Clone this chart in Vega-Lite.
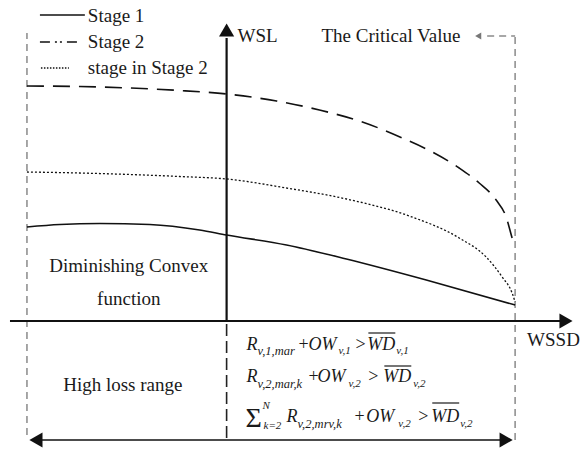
{
  "$schema": "https://vega.github.io/schema/vega-lite/v6.json",
  "width": 580,
  "height": 450,
  "autosize": {"type": "fit", "contains": "padding"},
  "padding": 0,
  "background": "white",
  "config": {"view": {"stroke": null}, "text": {"font": "Liberation Serif", "color": "#1a1a1a"}},
  "datasets": {
    "grayDashed": [
      {"x": 27, "y": 15, "x2": 27, "y2": 417},
      {"x": 516, "y": 10, "x2": 516, "y2": 414},
      {"x": 488, "y": 414, "x2": 516, "y2": 414}
    ],
    "axes": [
      {"x": 10, "y": 129, "x2": 562, "y2": 129},
      {"x": 227, "y": 129, "x2": 227, "y2": 412}
    ],
    "bottomArrow": [
      {"x": 33, "y": 10, "x2": 508, "y2": 10}
    ],
    "yDashed": [
      {"x": 227, "y": 12, "x2": 227, "y2": 127}
    ],
    "arrows": [
      {"x": 567, "y": 129, "dir": "right"},
      {"x": 227, "y": 420, "dir": "up"},
      {"x": 36, "y": 10, "dir": "left"},
      {"x": 507, "y": 10, "dir": "right"}
    ],
    "critArrow": [
      {"x": 479, "y": 414}
    ],
    "curves": [
      {"series": "s1", "x": 27, "y": 223},
      {"series": "s1", "x": 60, "y": 225.5},
      {"series": "s1", "x": 100, "y": 226.5},
      {"series": "s1", "x": 150, "y": 225.5},
      {"series": "s1", "x": 200, "y": 220},
      {"series": "s1", "x": 227, "y": 215},
      {"series": "s1", "x": 287, "y": 205},
      {"series": "s1", "x": 347, "y": 191},
      {"series": "s1", "x": 427, "y": 170},
      {"series": "s1", "x": 516, "y": 145},
      {"series": "s2", "x": 27, "y": 364},
      {"series": "s2", "x": 80, "y": 363.5},
      {"series": "s2", "x": 130, "y": 362},
      {"series": "s2", "x": 180, "y": 359.5},
      {"series": "s2", "x": 227, "y": 356},
      {"series": "s2", "x": 277, "y": 349},
      {"series": "s2", "x": 320, "y": 340},
      {"series": "s2", "x": 363, "y": 328},
      {"series": "s2", "x": 403, "y": 312},
      {"series": "s2", "x": 433, "y": 298},
      {"series": "s2", "x": 460, "y": 282},
      {"series": "s2", "x": 480, "y": 267},
      {"series": "s2", "x": 497, "y": 250},
      {"series": "s2", "x": 507, "y": 233},
      {"series": "s2", "x": 513, "y": 212},
      {"series": "s2", "x": 515, "y": 205},
      {"series": "s3", "x": 27, "y": 278},
      {"series": "s3", "x": 80, "y": 277},
      {"series": "s3", "x": 130, "y": 275.5},
      {"series": "s3", "x": 180, "y": 273.5},
      {"series": "s3", "x": 227, "y": 271},
      {"series": "s3", "x": 287, "y": 262},
      {"series": "s3", "x": 347, "y": 251},
      {"series": "s3", "x": 410, "y": 234},
      {"series": "s3", "x": 460, "y": 212},
      {"series": "s3", "x": 487, "y": 193},
      {"series": "s3", "x": 503, "y": 173},
      {"series": "s3", "x": 513, "y": 157},
      {"series": "s3", "x": 516, "y": 148}
    ],
    "legSolid": [{"x": 40, "y": 435, "x2": 85, "y2": 435}],
    "legDashDot": [{"x": 40, "y": 408, "x2": 80, "y2": 408}],
    "legDotted": [{"x": 41, "y": 382, "x2": 69, "y2": 382}],
    "labelsLeft": [
      {"x": 88, "y": 434, "label": "Stage 1"},
      {"x": 88, "y": 408, "label": "Stage 2"},
      {"x": 88, "y": 382, "label": "stage in Stage 2"},
      {"x": 238, "y": 414, "label": "WSL"},
      {"x": 322, "y": 414, "label": "The Critical Value"},
      {"x": 528, "y": 110, "label": "WSSD"}
    ],
    "labelsCenter": [
      {"x": 129, "y": 184, "label": "Diminishing Convex"},
      {"x": 129, "y": 151, "label": "function"},
      {"x": 123, "y": 65, "label": "High loss range"}
    ],
    "fMainItalic": [
      {"x": 247, "y": 100, "label": "R"},
      {"x": 309, "y": 100, "label": "OW"},
      {"x": 368, "y": 100, "label": "WD"},
      {"x": 247, "y": 68, "label": "R"},
      {"x": 318, "y": 68, "label": "OW"},
      {"x": 384, "y": 68, "label": "WD"},
      {"x": 287, "y": 28, "label": "R"},
      {"x": 367, "y": 28, "label": "OW"},
      {"x": 432, "y": 28, "label": "WD"}
    ],
    "fMainNormal": [
      {"x": 299, "y": 100, "label": "+"},
      {"x": 356, "y": 100, "label": ">"},
      {"x": 309, "y": 68, "label": "+"},
      {"x": 369, "y": 68, "label": ">"},
      {"x": 355, "y": 28, "label": "+"},
      {"x": 419, "y": 28, "label": ">"}
    ],
    "fSub": [
      {"x": 258, "y": 95, "label": "v,1,mar"},
      {"x": 258, "y": 62, "label": "v,2,mar,k"},
      {"x": 298, "y": 22, "label": "v,2,mrv,k"}
    ],
    "fSubSmall": [
      {"x": 339, "y": 96, "label": "v,1"},
      {"x": 397, "y": 96, "label": "v,1"},
      {"x": 349, "y": 63, "label": "v,2"},
      {"x": 414, "y": 63, "label": "v,2"},
      {"x": 399, "y": 23, "label": "v,2"},
      {"x": 461, "y": 23, "label": "v,2"},
      {"x": 263, "y": 41, "label": "N"},
      {"x": 264, "y": 21, "label": "k=2"}
    ],
    "fSigma": [
      {"x": 246, "y": 23, "label": "Σ"}
    ],
    "overlines": [
      {"x": 369, "y": 117, "x2": 396, "y2": 117},
      {"x": 385, "y": 84, "x2": 412, "y2": 84},
      {"x": 433, "y": 47, "x2": 460, "y2": 47}
    ]
  },
  "encoding": {
    "x": {"field": "x", "type": "quantitative", "scale": {"domain": [0, 580], "nice": false, "zero": false}, "axis": null},
    "y": {"field": "y", "type": "quantitative", "scale": {"domain": [0, 450], "nice": false, "zero": false}, "axis": null}
  },
  "layer": [
    {
      "data": {"name": "grayDashed"},
      "mark": {"type": "rule", "color": "#8a8a8a", "strokeWidth": 1.5, "strokeDash": [7, 5]},
      "encoding": {"x2": {"field": "x2"}, "y2": {"field": "y2"}}
    },
    {
      "data": {"name": "yDashed"},
      "mark": {"type": "rule", "color": "#222", "strokeWidth": 1.6, "strokeDash": [12, 5]},
      "encoding": {"x2": {"field": "x2"}, "y2": {"field": "y2"}}
    },
    {
      "data": {"name": "axes"},
      "mark": {"type": "rule", "color": "#111", "strokeWidth": 2.2},
      "encoding": {"x2": {"field": "x2"}, "y2": {"field": "y2"}}
    },
    {
      "data": {"name": "bottomArrow"},
      "mark": {"type": "rule", "color": "#111", "strokeWidth": 1.6},
      "encoding": {"x2": {"field": "x2"}, "y2": {"field": "y2"}}
    },
    {
      "data": {"name": "arrows"},
      "mark": {"type": "point", "filled": true, "color": "#111", "opacity": 1, "size": 230},
      "encoding": {
        "shape": {"field": "dir", "type": "nominal", "scale": {"domain": ["right", "left", "up"], "range": ["triangle-right", "triangle-left", "triangle-up"]}, "legend": null}
      }
    },
    {
      "data": {"name": "critArrow"},
      "mark": {"type": "point", "filled": true, "color": "#777", "opacity": 1, "size": 50, "shape": "triangle-left"}
    },
    {
      "data": {"name": "curves"},
      "transform": [{"filter": "datum.series == 's1'"}],
      "mark": {"type": "line", "color": "#111", "strokeWidth": 1.6, "interpolate": "monotone"},
      "encoding": {}
    },
    {
      "data": {"name": "curves"},
      "transform": [{"filter": "datum.series == 's2'"}],
      "mark": {"type": "line", "color": "#111", "strokeWidth": 1.6, "interpolate": "monotone", "strokeDash": [17, 9]},
      "encoding": {}
    },
    {
      "data": {"name": "curves"},
      "transform": [{"filter": "datum.series == 's3'"}],
      "mark": {"type": "line", "color": "#111", "strokeWidth": 1.3, "interpolate": "monotone", "strokeDash": [2, 2]},
      "encoding": {}
    },
    {
      "data": {"name": "legSolid"},
      "mark": {"type": "rule", "color": "#111", "strokeWidth": 1.6},
      "encoding": {"x2": {"field": "x2"}, "y2": {"field": "y2"}}
    },
    {
      "data": {"name": "legDashDot"},
      "mark": {"type": "rule", "color": "#111", "strokeWidth": 1.5, "strokeDash": [10, 5, 2, 3, 2, 5]},
      "encoding": {"x2": {"field": "x2"}, "y2": {"field": "y2"}}
    },
    {
      "data": {"name": "legDotted"},
      "mark": {"type": "rule", "color": "#111", "strokeWidth": 1.3, "strokeDash": [1.5, 1.5]},
      "encoding": {"x2": {"field": "x2"}, "y2": {"field": "y2"}}
    },
    {
      "data": {"name": "overlines"},
      "mark": {"type": "rule", "color": "#1a1a1a", "strokeWidth": 1.2},
      "encoding": {"x2": {"field": "x2"}, "y2": {"field": "y2"}}
    },
    {
      "data": {"name": "labelsLeft"},
      "mark": {"type": "text", "align": "left", "baseline": "middle", "fontSize": 19, "font": "Liberation Serif"},
      "encoding": {"text": {"field": "label"}}
    },
    {
      "data": {"name": "labelsCenter"},
      "mark": {"type": "text", "align": "center", "baseline": "middle", "fontSize": 19, "font": "Liberation Serif"},
      "encoding": {"text": {"field": "label"}}
    },
    {
      "data": {"name": "fMainItalic"},
      "mark": {"type": "text", "align": "left", "baseline": "alphabetic", "fontSize": 18, "fontStyle": "italic", "font": "Liberation Serif"},
      "encoding": {"text": {"field": "label"}}
    },
    {
      "data": {"name": "fMainNormal"},
      "mark": {"type": "text", "align": "left", "baseline": "alphabetic", "fontSize": 18, "font": "Liberation Serif"},
      "encoding": {"text": {"field": "label"}}
    },
    {
      "data": {"name": "fSub"},
      "mark": {"type": "text", "align": "left", "baseline": "alphabetic", "fontSize": 12.5, "fontStyle": "italic", "font": "Liberation Serif"},
      "encoding": {"text": {"field": "label"}}
    },
    {
      "data": {"name": "fSubSmall"},
      "mark": {"type": "text", "align": "left", "baseline": "alphabetic", "fontSize": 11, "fontStyle": "italic", "font": "Liberation Serif"},
      "encoding": {"text": {"field": "label"}}
    },
    {
      "data": {"name": "fSigma"},
      "mark": {"type": "text", "align": "left", "baseline": "alphabetic", "fontSize": 28, "font": "Liberation Serif"},
      "encoding": {"text": {"field": "label"}}
    }
  ]
}
